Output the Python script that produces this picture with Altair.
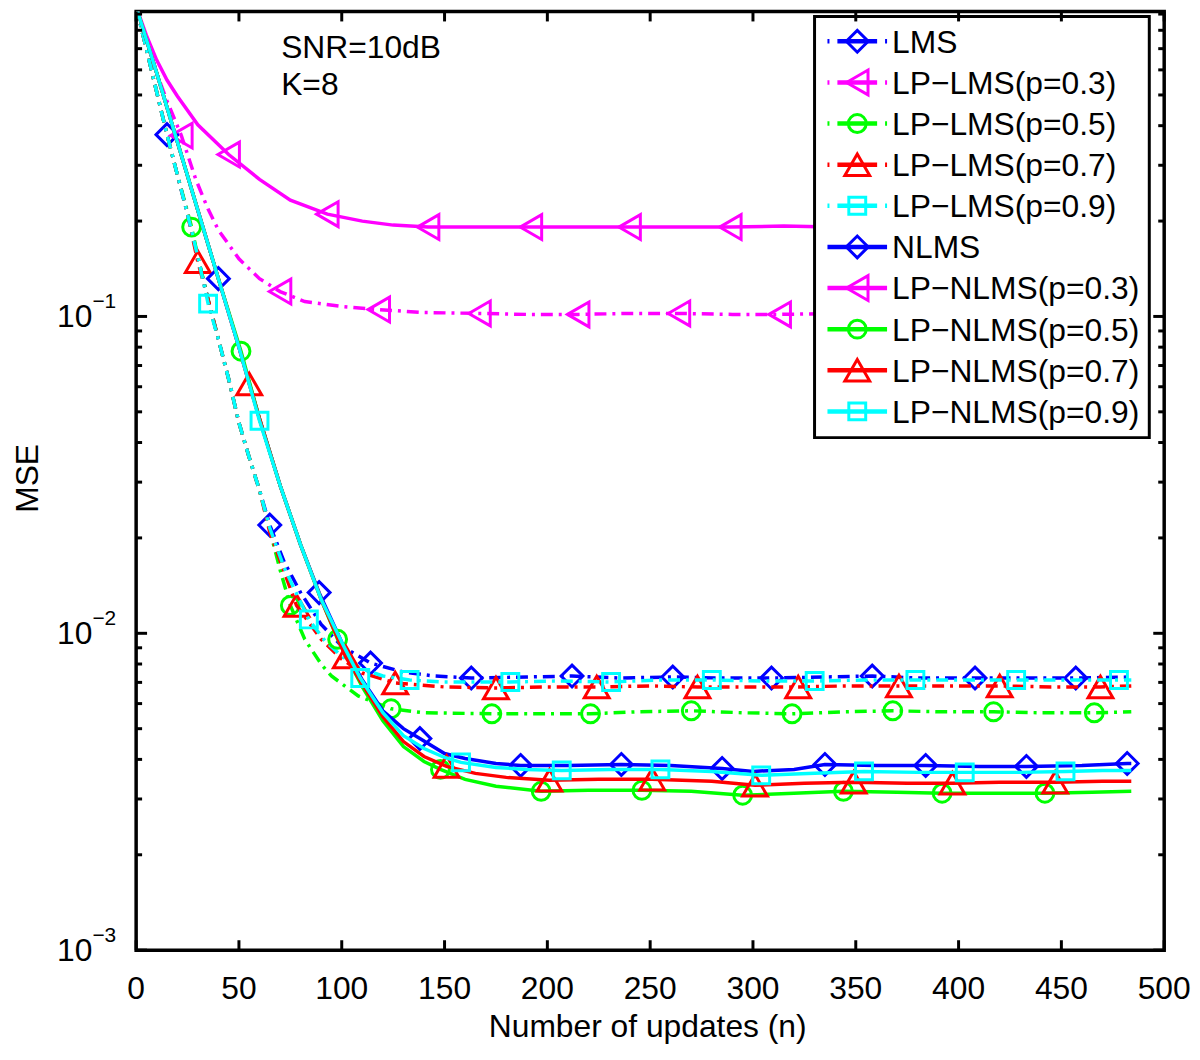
import altair as alt
import pandas as pd

FONT = "Liberation Sans"

# ---------------- data ----------------
lms_x = [0,5,10,15,20,25,30,35,40,45,50,55,60,65,72,80,90,100,114,130,145,163,190,212,235,261,285,309,335,358,380,408,430,457,484]
lms_y = [0.9507,0.6970,0.5110,0.3748,0.2808,0.2103,0.1542,0.1130,0.08474,0.06345,0.04619,0.03587,0.02828,0.02196,0.01681,0.01344,0.01067,0.009104,0.008054,0.007546,0.007332,0.007226,0.007279,0.007332,0.007226,0.007279,0.007226,0.007226,0.007279,0.007332,0.007226,0.007226,0.007226,0.007226,0.007279]
lms_m = [15,65,114,163,212,261,309,358,408,457]

lplms3_x = [0,5,10,15,22,29,35,40,50,60,70,82,100,118,140,167,190,215,240,264,290,313,340,362,390,411,435,460,484]
lplms3_y = [0.9507,0.7385,0.5861,0.4788,0.3721,0.2708,0.2181,0.1874,0.1520,0.1316,0.1198,0.1114,0.1075,0.1051,0.1029,0.1022,0.1015,0.1015,0.1022,0.1022,0.1015,0.1015,0.1022,0.1022,0.1022,0.1022,0.1022,0.1022,0.1022]
lplms3_m = [22,70,118,167,215,264,313,362,411,460]

lplms5_x = [0,5,10,15,20,27,30,35,40,45,50,55,60,65,70,75,82,90,95,108,124,140,173,195,221,245,270,295,319,345,368,390,417,440,466,484]
lplms5_y = [0.9507,0.6970,0.5110,0.3748,0.2808,0.1914,0.1542,0.1130,0.08474,0.06345,0.04619,0.03587,0.02828,0.02118,0.01587,0.01224,0.009576,0.007991,0.007332,0.006344,0.005778,0.005613,0.005573,0.005573,0.005573,0.005654,0.005695,0.005613,0.005573,0.005654,0.005695,0.005654,0.005654,0.005613,0.005613,0.005654]
lplms5_m = [27,75,124,173,221,270,319,368,417,466]

lplms7_x = [0,5,10,15,20,25,30,35,40,45,50,55,60,65,72,78,90,100,110,126,150,175,200,224,250,273,300,322,345,371,395,420,445,469,484]
lplms7_y = [0.9507,0.6970,0.5110,0.3748,0.2808,0.2103,0.1487,0.1130,0.08474,0.06345,0.04619,0.03587,0.02828,0.02088,0.01564,0.01224,0.009576,0.008291,0.007492,0.006970,0.006772,0.006723,0.006772,0.006772,0.006821,0.006772,0.006772,0.006772,0.006821,0.006821,0.006821,0.006821,0.006772,0.006772,0.006821]
lplms7_m = [30,78,126,175,224,273,322,371,420,469]

lplms9_x = [0,5,10,15,20,25,30,35,40,45,50,55,60,65,72,84,92,100,110,120,133,150,182,205,231,255,280,305,330,355,379,405,428,455,478,484]
lplms9_y = [0.9507,0.6970,0.5110,0.3748,0.2808,0.2103,0.1542,0.1098,0.08474,0.06345,0.04619,0.03587,0.02828,0.02149,0.01610,0.01106,0.009439,0.008472,0.007712,0.007332,0.007123,0.007020,0.007020,0.007071,0.007020,0.007123,0.007123,0.007071,0.007071,0.007123,0.007123,0.007123,0.007123,0.007123,0.007123,0.007123]
lplms9_m = [35,84,133,182,231,280,330,379,428,478]

nlms_x = [0,10,20,30,40,50,60,70,80,89,100,110,120,130,138,150,160,175,187,210,236,260,285,300,320,335,360,384,410,433,460,482,484]
nlms_y = [0.9507,0.5861,0.3563,0.2164,0.1316,0.07991,0.04753,0.02932,0.01901,0.01344,0.009371,0.007123,0.005695,0.005002,0.004653,0.004175,0.004027,0.003884,0.003828,0.003828,0.003856,0.003828,0.003746,0.003666,0.003719,0.003856,0.003828,0.003828,0.003801,0.003801,0.003828,0.003884,0.003884]
nlms_m = [40,89,138,187,236,285,335,384,433,482]

lpnlms3_x = [0,5,10,15,20,30,45,60,75,93,110,125,142,165,192,215,240,265,289,315,338,360,387,410,436,460,484]
lpnlms3_y = [0.9507,0.7713,0.6441,0.5574,0.4965,0.4027,0.3243,0.2708,0.2327,0.2103,0.1999,0.1942,0.1914,0.1914,0.1914,0.1914,0.1914,0.1914,0.1914,0.1928,0.1914,0.1914,0.1914,0.1914,0.1914,0.1914,0.1914]
lpnlms3_m = [45,93,142,192,240,289,338,387,436]

lpnlms5_x = [0,10,20,30,40,51,60,70,80,90,98,110,120,130,140,148,160,175,197,220,246,270,295,320,344,370,392,420,442,465,484]
lpnlms5_y = [0.9507,0.5861,0.3563,0.2164,0.1316,0.07766,0.04753,0.02932,0.01901,0.01278,0.009576,0.006772,0.005298,0.004391,0.003941,0.003719,0.003460,0.003290,0.003173,0.003196,0.003196,0.003173,0.003083,0.003128,0.003173,0.003150,0.003128,0.003128,0.003128,0.003150,0.003173]
lpnlms5_m = [51,98,148,197,246,295,344,392,442]

lpnlms7_x = [0,10,20,30,40,50,55,60,70,80,90,102,110,120,130,140,151,165,180,201,225,251,280,301,325,349,375,397,420,447,470,484]
lpnlms7_y = [0.9507,0.5861,0.3563,0.2164,0.1316,0.07991,0.06120,0.04753,0.02932,0.01901,0.01278,0.008412,0.006920,0.005454,0.004554,0.004086,0.003801,0.003614,0.003510,0.003435,0.003460,0.003460,0.003411,0.003313,0.003361,0.003386,0.003361,0.003361,0.003386,0.003386,0.003411,0.003411]
lpnlms7_m = [55,102,151,201,251,301,349,397,447]

lpnlms9_x = [0,10,20,30,40,50,60,70,80,90,100,109,120,130,140,150,158,175,190,207,230,255,280,304,330,354,380,403,430,452,470,484]
lpnlms9_y = [0.9507,0.5861,0.3563,0.2164,0.1316,0.07991,0.04685,0.02932,0.01901,0.01278,0.009371,0.007226,0.005613,0.004755,0.004329,0.004056,0.003913,0.003773,0.003719,0.003692,0.003719,0.003719,0.003666,0.003562,0.003614,0.003666,0.003640,0.003640,0.003640,0.003666,0.003692,0.003692]
lpnlms9_m = [60,109,158,207,255,304,354,403,452]

names = ["LMS", "LP−LMS(p=0.3)", "LP−LMS(p=0.5)", "LP−LMS(p=0.7)", "LP−LMS(p=0.9)",
         "NLMS", "LP−NLMS(p=0.3)", "LP−NLMS(p=0.5)", "LP−NLMS(p=0.7)", "LP−NLMS(p=0.9)"]
xs_all = [lms_x, lplms3_x, lplms5_x, lplms7_x, lplms9_x, nlms_x, lpnlms3_x, lpnlms5_x, lpnlms7_x, lpnlms9_x]
ys_all = [lms_y, lplms3_y, lplms5_y, lplms7_y, lplms9_y, nlms_y, lpnlms3_y, lpnlms5_y, lpnlms7_y, lpnlms9_y]
ms_all = [lms_m, lplms3_m, lplms5_m, lplms7_m, lplms9_m, nlms_m, lpnlms3_m, lpnlms5_m, lpnlms7_m, lpnlms9_m]

x_ticks = [0, 50, 100, 150, 200, 250, 300, 350, 400, 450, 500]
y_major = [0.001, 0.01, 0.1]
y_exp = ["−3", "−2", "−1"]
y_minor = [m * d for d in (0.001, 0.01, 0.1) for m in range(2, 10)]

# ---------------- styles ----------------
colors = ["#0000ff", "#ff00ff", "#00ff00", "#ff0000", "#00ffff"] * 2
dashed = [True] * 5 + [False] * 5
shapes = ["diamond", "triangle-left", "circle", "triangle-up", "square"] * 2
sizes = [484, 625, 324, 625, 289] * 2
DASH = [12, 6, 3, 6]

W, H = 1035, 945
XS = alt.Scale(domain=[0, 500], nice=False, zero=False)
YS = alt.Scale(type="log", domain=[0.001, 0.917], nice=False)

layers = []
for i in range(10):
    assert len(xs_all[i]) == len(ys_all[i]), names[i]
    df = pd.DataFrame({"n": xs_all[i], "mse": ys_all[i]})
    lk = dict(color=colors[i], strokeWidth=3.5, clip=True)
    if dashed[i]:
        lk["strokeDash"] = DASH
    layers.append(alt.Chart(df).mark_line(**lk).encode(
        x=alt.X("n:Q", scale=XS, axis=None), y=alt.Y("mse:Q", scale=YS, axis=None)))
    mdf = df[df["n"].isin(ms_all[i])]
    layers.append(alt.Chart(mdf).mark_point(shape=shapes[i], filled=False, color=colors[i],
                                            size=sizes[i], strokeWidth=3, opacity=1, clip=True).encode(
        x=alt.X("n:Q", scale=XS, axis=None), y=alt.Y("mse:Q", scale=YS, axis=None)))

one = pd.DataFrame({"a": [0]})

# legend
layers.append(alt.Chart(one).mark_rect(fill="white", stroke="black", strokeWidth=3).encode(
    x=alt.value(683), x2=alt.value(1020), y=alt.value(5), y2=alt.value(429)))
for i in range(10):
    ry = 30 + 41.4 * i
    rk = dict(color=colors[i], strokeWidth=4.5)
    if dashed[i]:
        rk["strokeDash"] = [2, 8, 40, 8, 2]
    layers.append(alt.Chart(one).mark_rule(**rk).encode(
        x=alt.value(696), x2=alt.value(756), y=alt.value(ry)))
    layers.append(alt.Chart(one).mark_point(shape=shapes[i], filled=False, color=colors[i],
                                            size=sizes[i], strokeWidth=3, opacity=1).encode(
        x=alt.value(726), y=alt.value(ry)))
    layers.append(alt.Chart(pd.DataFrame({"t": [names[i]]})).mark_text(
        align="left", baseline="alphabetic", font=FONT, fontSize=32, color="black").encode(
        text="t:N", x=alt.value(761), y=alt.value(ry + 11.5)))

# inward ticks
xt = pd.DataFrame({"n": x_ticks, "lab": [str(v) for v in x_ticks]})
for y1, y2 in ((H, H - 10), (0, 10)):
    layers.append(alt.Chart(xt).mark_rule(color="black", strokeWidth=3).encode(
        x=alt.X("n:Q", scale=XS, axis=None), y=alt.value(y1), y2=alt.value(y2)))
ymaj = pd.DataFrame({"v": y_major, "b": ["10"] * 3, "e": y_exp})
ymin = pd.DataFrame({"v": y_minor})
for dfv, ln in ((ymaj, 11), (ymin, 6)):
    for x1, x2 in ((0, ln), (W, W - ln)):
        layers.append(alt.Chart(dfv).mark_rule(color="black", strokeWidth=3).encode(
            y=alt.Y("v:Q", scale=YS, axis=None), x=alt.value(x1), x2=alt.value(x2)))

# tick labels
layers.append(alt.Chart(xt).mark_text(align="center", baseline="alphabetic", font=FONT,
                                      fontSize=32, color="black").encode(
    x=alt.X("n:Q", scale=XS, axis=None), y=alt.value(994), text="lab:N"))
layers.append(alt.Chart(ymaj).mark_text(align="right", baseline="alphabetic", font=FONT,
                                        fontSize=32, dy=11, color="black").encode(
    y=alt.Y("v:Q", scale=YS, axis=None), x=alt.value(-44), text="b:N"))
layers.append(alt.Chart(ymaj).mark_text(align="left", baseline="alphabetic", font=FONT,
                                        fontSize=21, dy=-8, color="black").encode(
    y=alt.Y("v:Q", scale=YS, axis=None), x=alt.value(-44), text="e:N"))

# titles and annotation
def label(txt, x, y, **kw):
    return alt.Chart(pd.DataFrame({"t": [txt]})).mark_text(
        font=FONT, fontSize=32, color="black", baseline="alphabetic", **kw).encode(
        text="t:N", x=alt.value(x), y=alt.value(y))

layers.append(label("Number of updates (n)", 515, 1032, align="center"))
layers.append(label("MSE", -99, 470, align="center", angle=270))
layers.append(label("SNR=10dB", 146, 47, align="left"))
layers.append(label("K=8", 146, 84, align="left"))

chart = alt.layer(*layers).properties(
    width=W, height=H,
    padding={"left": 129, "top": 0, "right": 28, "bottom": 100},
    autosize=alt.AutoSizeParams(type="none"),
).configure(font=FONT).configure_view(stroke="black", strokeWidth=3.5)

chart.save("out.html", embed_options={"renderer": "svg", "actions": False})
